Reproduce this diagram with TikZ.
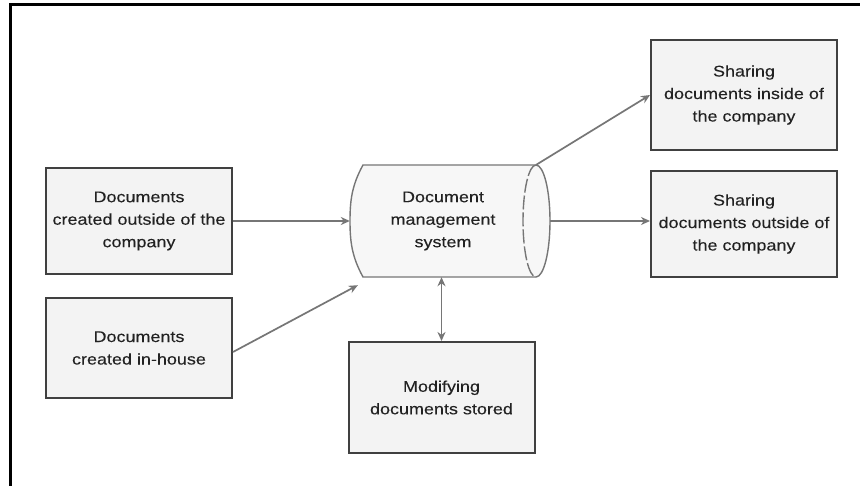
\documentclass[tikz,border=0pt]{standalone}
\usepackage{fontspec}
\setmainfont{Liberation Sans}
\newfontfamily\diafont[FakeStretch=1.16,FakeBold=0.12]{Liberation Sans}
\usetikzlibrary{arrows.meta}
\definecolor{boxfill}{HTML}{F3F3F3}
\definecolor{boxline}{HTML}{404040}
\definecolor{arrowcol}{HTML}{767676}
\definecolor{txt}{HTML}{222222}
\begin{document}
\begin{tikzpicture}[x=1pt,y=-1pt,
  procbox/.style={draw=boxline, line width=2pt, fill=boxfill, minimum width=186pt,
    minimum height=106pt, align=center, text=txt, font=\diafont\fontsize{15.5}{22.5}\selectfont,
    inner sep=2pt},
  flow/.style={draw=arrowcol, line width=1.7pt, -{Stealth[length=9pt,width=8pt]}},
  bflow/.style={draw=arrowcol, line width=1.7pt, {Stealth[length=9pt,width=8pt]}-{Stealth[length=9pt,width=8pt]}}]
\useasboundingbox (0,0) rectangle (860,486);
\fill[white] (0,0) rectangle (860,486);
\draw[black, line width=3pt] (10,486) -- (10,5) -- (860,5);

\node[procbox] (A) at (139,221) {Documents\\created outside of the\\company};
\node[procbox, minimum height=100pt] (B) at (139,348) {Documents\\created in-house};
\node[procbox, minimum height=110pt] (C) at (744,95) {Sharing\\documents inside of\\the company};
\node[procbox] (D) at (744,224) {Sharing\\documents outside of\\the company};
\node[procbox, minimum height=111pt] (E) at (441.5,397.5) {Modifying\\documents stored};

% cylinder
\node[minimum width=200pt, minimum height=112pt, inner sep=0pt] (dms) at (450,221) {};
\fill[white!97!black] (363,165) .. controls (352,185) and (350,200) .. (350,221)
  .. controls (350,242) and (352,257) .. (363,277) -- (536,277)
  .. controls (543.7,277) and (550,252) .. (550,221)
  .. controls (550,190) and (543.7,165) .. (536,165) -- cycle;
\draw[draw=arrowcol, line width=1.4pt] (536,165) -- (363,165)
  .. controls (352,185) and (350,200) .. (350,221)
  .. controls (350,242) and (352,257) .. (363,277) -- (536,277);
\draw[draw=arrowcol, line width=1.4pt] (536,277)
  .. controls (543.7,277) and (550,252) .. (550,221)
  .. controls (550,190) and (543.7,165) .. (536,165);
\draw[draw=arrowcol, line width=1.4pt, dash pattern=on 14pt off 3pt] (536,165)
  .. controls (528.8,165) and (523,190) .. (523,221)
  .. controls (523,252) and (528.8,277) .. (536,277);
\node[align=center, text=txt, font=\diafont\fontsize{15.5}{22.5}\selectfont] (dmstext) at (443,221) {Document\\management\\system};

\draw[flow] (A.east) -- (dms.west);
\draw[flow] ([yshift=-4pt]B.east) -- ([xshift=8pt,yshift=-8pt]dms.south west);
\draw[flow] ([xshift=-14pt]dms.north east) -- (C.west);
\draw[flow] (dms.east) -- (dms.east -| D.west);
\draw[bflow] (E.north) -- (E.north |- dms.south);
\end{tikzpicture}
\end{document}
